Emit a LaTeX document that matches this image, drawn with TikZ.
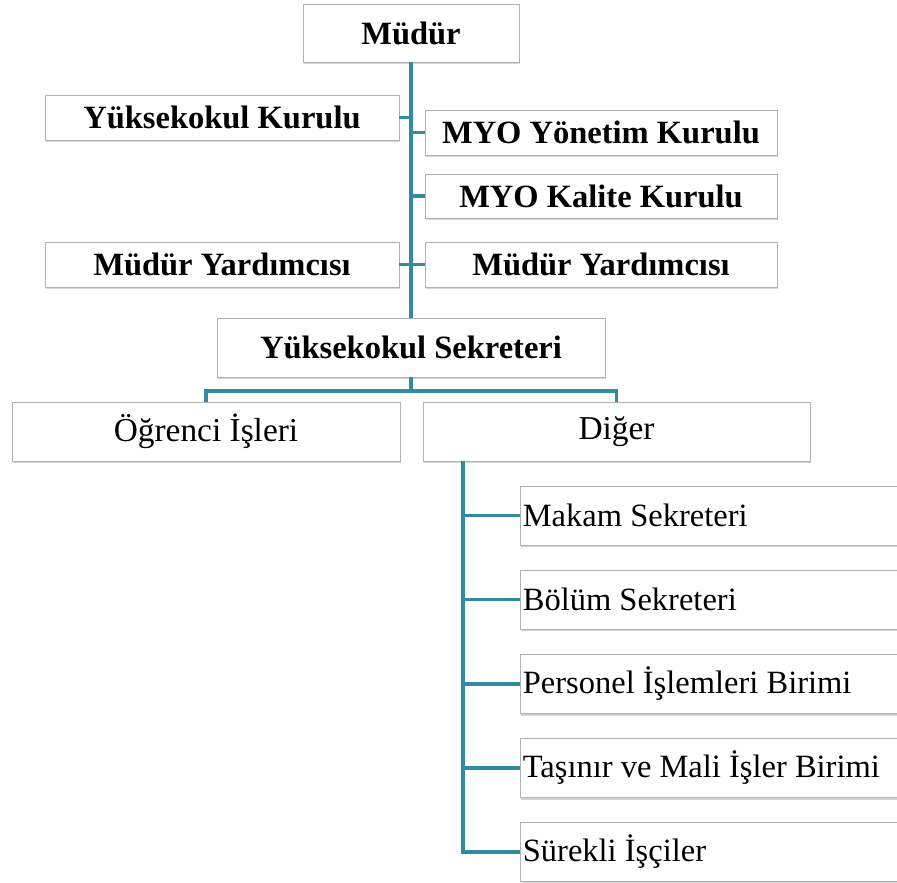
\documentclass[tikz,border=0pt]{standalone}
\usepackage{fontspec}
\setmainfont{Liberation Serif}
\usetikzlibrary{shadows}

\definecolor{linkblue}{RGB}{50,138,163}

\tikzset{
	box/.style={draw=gray!60, fill=white, inner sep=0pt,
		drop shadow={shadow xshift=0.6pt, shadow yshift=-1.2pt, opacity=0.35, fill=gray},
		font=\fontsize{19}{22}\selectfont},
	headbox/.style={box, font=\fontsize{18.5}{22}\selectfont\bfseries},
	unitbox/.style={box, anchor=west, minimum height=1.18cm, text width=7.9cm,
		align=flush left, inner xsep=0.05cm, font=\fontsize{18.5}{22}\selectfont},
	link/.style={draw=linkblue, line width=2.2pt}
}

\begin{document}
\begin{tikzpicture}[x=0.02cm, y=-0.02cm]

\useasboundingbox (0,0) rectangle (897,883);
\clip (0,0) rectangle (897,883);

% upper part
\node (mudur) [headbox, minimum width=4.32cm, minimum height=1.16cm] at (411,33) {Müdür};
\node (ykurul) [headbox, minimum width=7.08cm, minimum height=0.9cm] at (222,117.5) {Yüksekokul Kurulu};
\node (yonetim) [headbox, minimum width=7.04cm, minimum height=0.9cm] at (601,132.5) {MYO Yönetim Kurulu};
\node (kalite) [headbox, minimum width=7.04cm, minimum height=0.88cm] at (601,196) {MYO Kalite Kurulu};
\node (yardA) [headbox, minimum width=7.08cm, minimum height=0.9cm] at (222,264.5) {Müdür Yardımcısı};
\node (yardB) [headbox, minimum width=7.04cm, minimum height=0.9cm] at (601,264.5) {Müdür Yardımcısı};
\node (sekreter) [headbox, minimum width=7.76cm, minimum height=1.18cm] at (411,347.5) {Yüksekokul Sekreteri};

% second level
\node (ogrenci) [box, minimum width=7.76cm, minimum height=1.18cm] at (206,431.5) {Öğrenci İşleri};
\node (diger) [box, minimum width=7.74cm, minimum height=1.18cm] at (616.5,431.5) {Diğer};

% units under Diger
\node (makam) [unitbox] at (520,515.5) {Makam Sekreteri};
\node (bolum) [unitbox] at (520,599.5) {Bölüm Sekreteri};
\node (personel) [unitbox] at (520,684) {Personel İşlemleri Birimi};
\node (tasinir) [unitbox] at (520,768) {Taşınır ve Mali İşler Birimi};
\node (surekli) [unitbox] at (520,852) {Sürekli İşçiler};

\coordinate (bus) at (411,391);
\coordinate (dspine) at (463,461);

% connectors
\draw[link] (mudur.south) -- (sekreter.north);
\foreach \n in {ykurul,yardA}
	\draw[link] (\n.east) -- (\n.east -| mudur.south);
\foreach \n in {yonetim,kalite,yardB}
	\draw[link] (\n.west) -- (\n.west -| mudur.south);
\draw[link] (sekreter.south) -- (bus);
\draw[link] (ogrenci.north) |- (bus) -| (diger.north);
\draw[link] (dspine) |- (surekli.west);
\foreach \n in {makam,bolum,personel,tasinir}
	\draw[link] (\n.west) -- (\n.west -| dspine);

\end{tikzpicture}
\end{document}
